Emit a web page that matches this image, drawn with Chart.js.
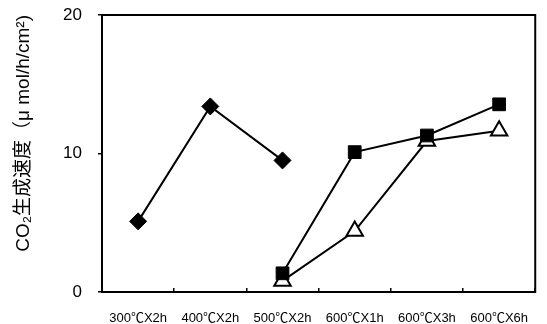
<!DOCTYPE html>
<html>
<head>
<meta charset="utf-8">
<script src="https://cdn.jsdelivr.net/npm/chart.js@4"></script>
<style>
body { margin: 0; background: #fff; overflow: hidden; }
#wrap { width: 552px; height: 324px; position: relative; }
</style>
</head>
<body>
<div id="wrap"><canvas id="chart"></canvas></div>
<script>
var categories = ['300℃X2h', '400℃X2h', '500℃X2h', '600℃X1h', '600℃X3h', '600℃X6h'];
var diamondValues = [5.1, 13.4, 9.5, null, null, null];
var squareValues = [null, null, 1.35, 10.1, 11.3, 13.55];
var triangleValues = [null, null, 0.8, 4.4, 10.9, 11.65];
var yTicks = [0, 10, 20];

var fontFamily = "'Liberation Sans', Arial, 'Noto Sans CJK JP', sans-serif";

// frame round the plot area
var framePlugin = {
    id: 'frame',
    afterDraw: function(chart) {
        var a = chart.chartArea;
        var ctx = chart.ctx;
        ctx.save();
        ctx.strokeStyle = '#000';
        ctx.lineWidth = 2;
        ctx.strokeRect(a.left, a.top, a.right - a.left, a.bottom - a.top);
        ctx.restore();
    }
};

window.onload = function() {
    var ctx = document.getElementById('chart').getContext('2d');
    new Chart(ctx, {
        type: 'line',
        data: {
            labels: categories,
            datasets: [{
                data: squareValues,
                borderColor: '#000',
                borderWidth: 2,
                pointStyle: 'rect',
                pointRadius: 9,
                pointBackgroundColor: '#000',
                pointBorderColor: '#000',
                pointBorderWidth: 1
            }, {
                data: triangleValues,
                borderColor: '#000',
                borderWidth: 2,
                pointStyle: 'triangle',
                pointRadius: 9.5,
                pointBackgroundColor: '#fff',
                pointBorderColor: '#000',
                pointBorderWidth: 2
            }, {
                data: diamondValues,
                borderColor: '#000',
                borderWidth: 2,
                pointStyle: 'rectRot',
                pointRadius: 8.5,
                pointBackgroundColor: '#000',
                pointBorderColor: '#000',
                pointBorderWidth: 1
            }]
        },
        options: {
            responsive: true,
            maintainAspectRatio: false,
            animation: false,
            spanGaps: false,
            layout: { padding: { top: 15, right: 2, left: 0, bottom: 0 } },
            plugins: {
                legend: { display: false },
                tooltip: { enabled: false }
            },
            scales: {
                x: {
                    offset: true,
                    grid: {
                        offset: true,
                        drawOnChartArea: false,
                        tickLength: -4,
                        color: '#000',
                        lineWidth: 1.5
                    },
                    border: { color: '#000', width: 2 },
                    ticks: {
                        color: '#000',
                        maxRotation: 0,
                        autoSkip: false,
                        padding: 23,
                        font: { family: fontFamily, size: 13 }
                    },
                    afterFit: function(scale) { scale.height = 32; }
                },
                y: {
                    min: 0,
                    max: 20,
                    afterBuildTicks: function(scale) {
                        scale.ticks = yTicks.map(function(v) { return { value: v }; });
                    },
                    grid: {
                        drawOnChartArea: false,
                        tickLength: 4,
                        color: '#000',
                        lineWidth: 1.5
                    },
                    border: { color: '#000', width: 2 },
                    ticks: {
                        color: '#000',
                        padding: 16,
                        font: { family: fontFamily, size: 17 }
                    },
                    title: {
                        display: true,
                        align: 'end',
                        text: 'CO₂生成速度（μ mol/h/cm²)',
                        color: '#000',
                        padding: { top: 12, bottom: 0 },
                        font: { family: fontFamily, size: 19 }
                    },
                    afterFit: function(scale) {
                        scale.width = 102;
                        scale.paddingTop = 0;
                        scale.paddingBottom = 0;
                    }
                }
            }
        },
        plugins: [framePlugin]
    });
};
</script>
</body>
</html>
